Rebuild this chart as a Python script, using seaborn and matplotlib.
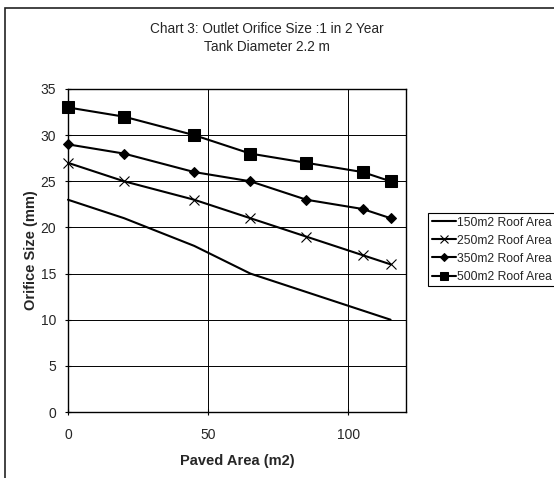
import matplotlib
matplotlib.use("Agg")
import matplotlib.pyplot as plt
import seaborn as sns
import pandas as pd
from matplotlib.patches import Rectangle

# values
paved_area = [0, 20, 45, 65, 85, 105, 115]
roof_150 = [23, 21, 18, 15, 13, 11, 10]
roof_250 = [27, 25, 23, 21, 19, 17, 16]
roof_350 = [29, 28, 26, 25, 23, 22, 21]
roof_500 = [33, 32, 30, 28, 27, 26, 25]
series_names = ["150m2 Roof Area", "250m2 Roof Area", "350m2 Roof Area", "500m2 Roof Area"]
x_ticks = [0, 50, 100]
y_ticks = [0, 5, 10, 15, 20, 25, 30, 35]

sns.set_theme(style="white")
plt.rcParams['font.family'] = ['Liberation Sans', 'DejaVu Sans']

df = pd.DataFrame({
    "paved": paved_area * 4,
    "size": roof_150 + roof_250 + roof_350 + roof_500,
    "series": [n for n in series_names for _ in paved_area],
})

styles = {
    "150m2 Roof Area": dict(marker=None),
    "250m2 Roof Area": dict(marker="x", markersize=7.5, markeredgewidth=0.8),
    "350m2 Roof Area": dict(marker="D", markersize=5.5),
    "500m2 Roof Area": dict(marker="s", markersize=8),
}

fig = plt.figure(figsize=(5.54, 4.78), dpi=100)
ax = fig.add_axes([68 / 554, 1 - 412 / 478, (406 - 68) / 554, (412 - 89) / 478])

for name in series_names:
    sub = df[df["series"] == name]
    sns.lineplot(data=sub, x="paved", y="size", ax=ax, color="black",
                 linewidth=1.5, label=name, markeredgecolor="black",
                 markerfacecolor="black", clip_on=False, **styles[name])

ax.set_xlim(0, 120.5)
ax.set_ylim(0, 35)
ax.set_xticks(x_ticks)
ax.set_yticks(y_ticks)
ax.grid(True, color="black", linewidth=0.7)
ax.set_axisbelow(True)
for s in ax.spines.values():
    s.set_color("black")
    s.set_linewidth(1.0)
ax.tick_params(axis="both", direction="inout", length=5, width=0.8,
               color="black", labelsize=10, left=True, bottom=True)
ax.tick_params(axis="x", pad=9)
ax.tick_params(axis="y", pad=6)
ax.set_xlabel("Paved Area (m2)", fontsize=10.5, fontweight="bold", labelpad=9)
ax.set_ylabel("Orifice Size (mm)", fontsize=10.5, fontweight="bold", labelpad=2)

handles, labels = ax.get_legend_handles_labels()
ax.get_legend().remove()
leg = fig.legend(handles, labels, loc="upper left",
                 bbox_to_anchor=(428 / 554, 1 - 213 / 478),
                 fontsize=8.7, frameon=True, fancybox=False, framealpha=1,
                 edgecolor="black", handlelength=2.0, handletextpad=0.1,
                 labelspacing=0.5, borderpad=0.3, borderaxespad=0,
                 markerscale=0.75)
leg.get_frame().set_linewidth(0.8)

fig.text(267 / 554, 1 - 29 / 478, "Chart 3: Outlet Orifice Size :1 in 2 Year",
         ha="center", va="center", fontsize=9.8)
fig.text(267 / 554, 1 - 47 / 478, "Tank Diameter 2.2 m",
         ha="center", va="center", fontsize=9.8)

fig.patches.append(Rectangle((5 / 554, -0.1), 1.2, 1 - 8 / 478 + 0.1,
                             transform=fig.transFigure, fill=False,
                             edgecolor="#222222", linewidth=1.2))

fig.savefig("out.png", dpi=100)
